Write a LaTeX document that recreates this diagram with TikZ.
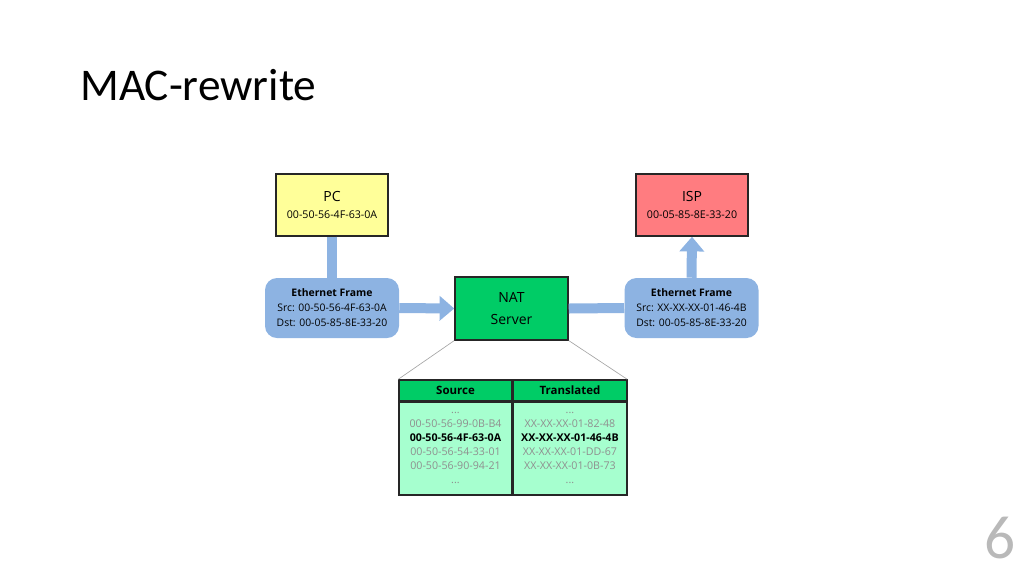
\documentclass[tikz,border=0pt]{standalone}
\usepackage{fontspec}
\setmainfont{Open Sans}
\newfontfamily\titlefont{Carlito}
\usetikzlibrary{arrows.meta,positioning}
\definecolor{pcyellow}{HTML}{FFFF99}
\definecolor{ispred}{HTML}{FF7C80}
\definecolor{frameblue}{HTML}{8DB3E2}
\definecolor{natgreen}{HTML}{00CC66}
\definecolor{tablemint}{HTML}{A6FFCF}
\definecolor{dimtext}{HTML}{8F8F8F}
\tikzset{
  hostbox/.style={draw=black!85, line width=1.1pt, minimum width=84pt,
    minimum height=46.5pt, align=center, inner sep=0pt},
  framebox/.style={fill=frameblue, rounded corners=9pt, minimum width=100.5pt,
    minimum height=45pt, align=center, inner sep=0pt,
    font=\fontsize{7.8}{11.2}\selectfont},
  link/.style={frameblue, line width=7.5pt},
  headcell/.style={fill=natgreen, draw=black!85, line width=1.1pt,
    minimum width=84.75pt, minimum height=15.75pt, inner sep=0pt,
    font=\bfseries\fontsize{8.6}{10}\selectfont},
  bodycell/.style={fill=tablemint, draw=black!85, line width=0.8pt,
    minimum width=84.75pt, minimum height=69pt, inner sep=0pt, align=center,
    font=\fontsize{8}{10.5}\selectfont, text=dimtext}
}

\begin{document}
\begin{tikzpicture}[x=0.75pt,y=-0.75pt,>={Triangle[length=11pt,width=18pt]}]
  \useasboundingbox (0,0) rectangle (1024,576);
  % title
  \node[anchor=base west, inner sep=0pt, font=\titlefont\fontsize{34}{40}\selectfont]
    (title) at (80,100) {MAC-rewrite};

  % hosts
  \node[hostbox, fill=pcyellow] (pc) at (332,205)
    {\fontsize{10.5}{15}\selectfont PC\\[1pt]\fontsize{8}{10}\selectfont 00-50-56-4F-63-0A};
  \node[hostbox, fill=ispred] (isp) at (692,205)
    {\fontsize{10.5}{15}\selectfont ISP\\[1pt]\fontsize{8}{10}\selectfont 00-05-85-8E-33-20};

  % frames and nat
  \node[framebox] (frameL) at (332,308)
    {\textbf{Ethernet Frame}\\Src: 00-50-56-4F-63-0A\\Dst: 00-05-85-8E-33-20};
  \node[framebox] (frameR) at (691.5,308)
    {\textbf{Ethernet Frame}\\Src: XX-XX-XX-01-46-4B\\Dst: 00-05-85-8E-33-20};
  \node[hostbox, fill=natgreen, minimum width=84.75pt, minimum height=47pt,
    font=\fontsize{10.5}{16.5}\selectfont] (nat) at (511.5,308.5) {NAT\\Server};

  % connectors
  \draw[link] (pc.south) -- (frameL.north);
  \draw[link,->] (frameL.east) -- (nat.west);
  \draw[link] (nat.east) -- (frameR.west);
  \draw[link,->] (frameR.north) -- (isp.south);

  % translation table
  \node[headcell] (srchead) at (455.5,390.5) {Source};
  \node[headcell, right=0pt of srchead] (trhead) {Translated};
  \node[bodycell, below=0pt of srchead] (srcbody)
    {...\\00-50-56-99-0B-B4\\\textcolor{black}{\bfseries 00-50-56-4F-63-0A}\\
     00-50-56-54-33-01\\00-50-56-90-94-21\\...};
  \node[bodycell, below=0pt of trhead] (trbody)
    {...\\XX-XX-XX-01-82-48\\\textcolor{black}{\bfseries XX-XX-XX-01-46-4B}\\
     XX-XX-XX-01-DD-67\\XX-XX-XX-01-0B-73\\...};
  \draw[black!85, line width=1.1pt] (srchead.north west) rectangle (trbody.south east);
  \draw[gray!70, line width=0.5pt] (nat.south west) -- (srchead.north west);
  \draw[gray!70, line width=0.5pt] (nat.south east) -- (trhead.north east);

  % page number
  \node[text=gray!55, font=\titlefont\fontsize{46}{50}\selectfont] (pagenum) at (1000,538) {6};
\end{tikzpicture}
\end{document}
